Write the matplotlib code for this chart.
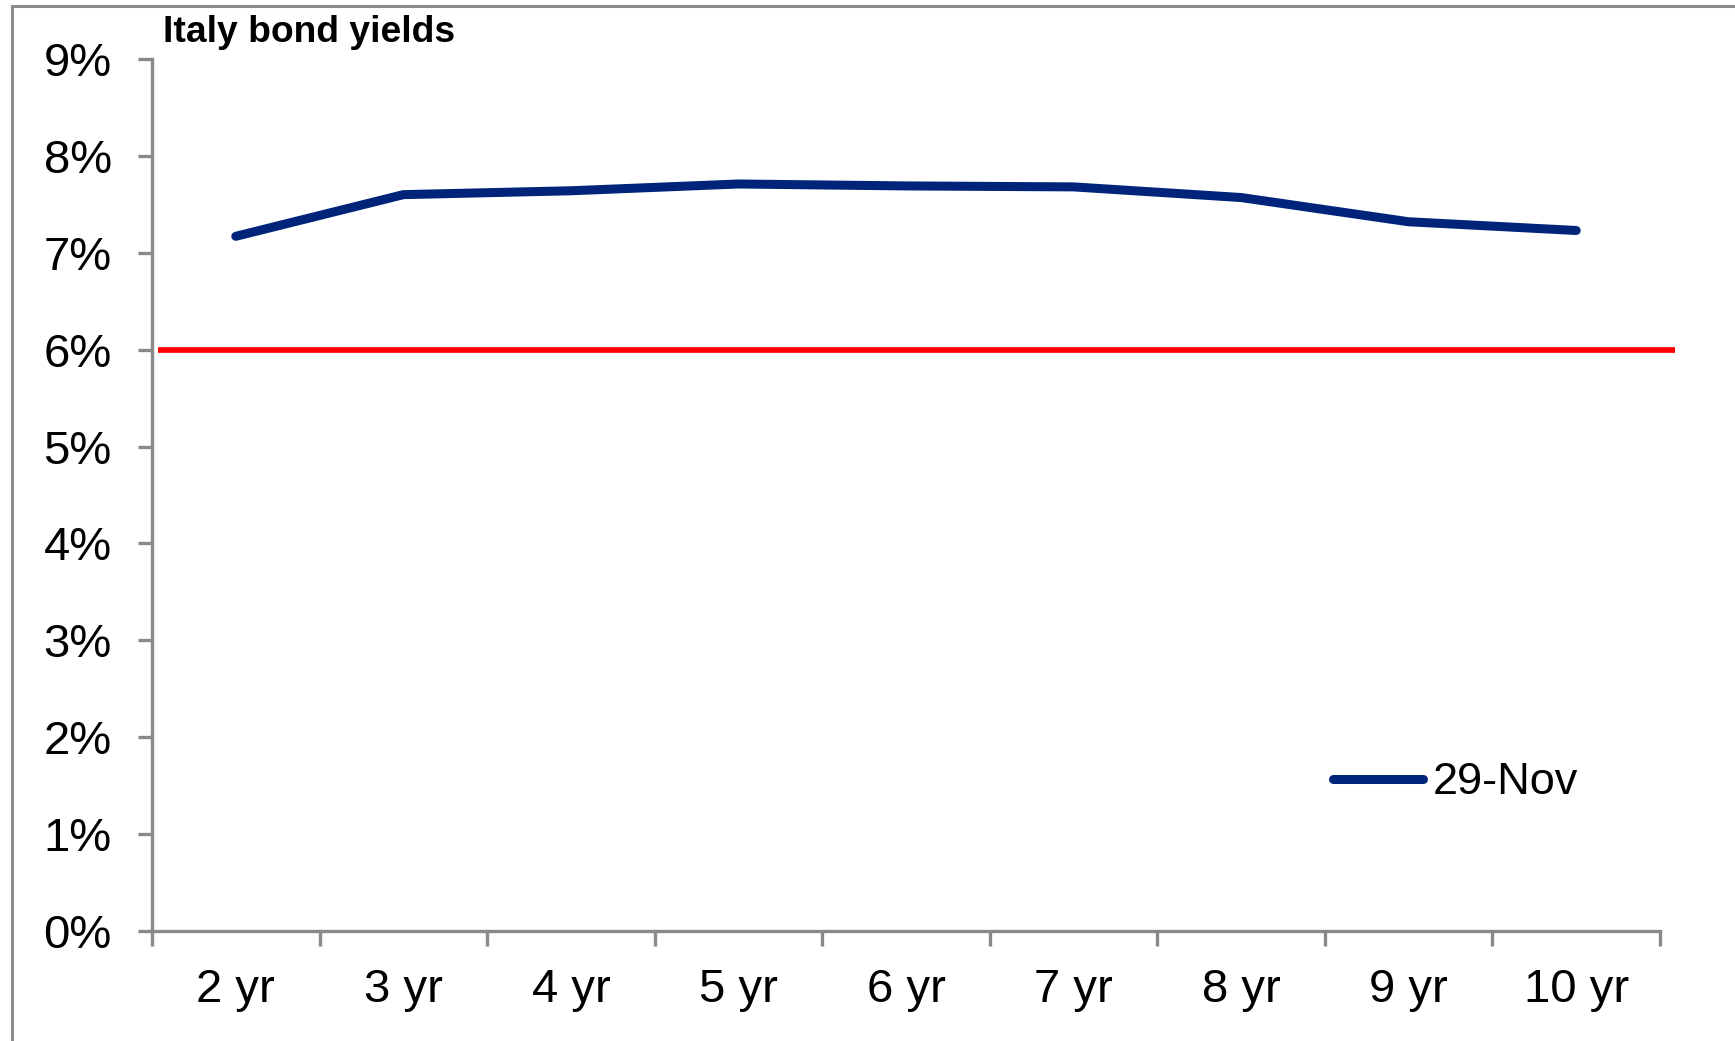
import matplotlib
matplotlib.use("Agg")
import matplotlib.pyplot as plt
from matplotlib.lines import Line2D
import numpy as np

# Italian government bond yield curve
maturities = ["2 yr", "3 yr", "4 yr", "5 yr", "6 yr", "7 yr", "8 yr", "9 yr", "10 yr"]
yields_29nov = [7.17, 7.60, 7.64, 7.71, 7.69, 7.68, 7.57, 7.32, 7.23]
threshold = 6.0
series_label = "29-Nov"
title = "Italy bond yields"
y_ticks = list(range(0, 10))

W, H = 1735, 1041
plt.rcParams["font.family"] = ["Liberation Sans", "DejaVu Sans"]

fig = plt.figure(figsize=(W / 100, H / 100), dpi=100)
ax = fig.add_axes([152 / W, 1 - 931 / H, (1660 - 152) / W, (931 - 59) / H])

axis_gray = "#898989"
navy = "#00247A"

x = np.arange(len(maturities))
ax.plot(x, yields_29nov, color=navy, lw=6.5, solid_capstyle="round",
        solid_joinstyle="round", label=series_label, zorder=3)

# 6% reference line, running a little past the plot area on the right
ax.plot([-0.464, 8.587], [threshold, threshold], color="#FF0000", lw=4.1,
        solid_capstyle="butt", clip_on=False, zorder=2)

ax.set_xlim(-0.5, len(maturities) - 0.5)
ax.set_ylim(0, 9)

ax.set_yticks(y_ticks)
ax.set_yticklabels([f"{v}%" for v in y_ticks])
ax.set_xticks(np.arange(len(maturities) + 1) - 0.5)
ax.set_xticklabels([])
ax.set_xticks(x, minor=True)
ax.set_xticklabels(maturities, minor=True)

for side in ("top", "right"):
    ax.spines[side].set_visible(False)
for side in ("left", "bottom"):
    ax.spines[side].set_color(axis_gray)
    ax.spines[side].set_linewidth(2.4)

ax.tick_params(axis="y", which="major", direction="out", length=10, width=2.4,
               color=axis_gray, labelsize=34, pad=19)
ax.tick_params(axis="x", which="major", direction="out", length=11, width=2.4,
               color=axis_gray)
ax.tick_params(axis="x", which="minor", length=0, labelsize=34, pad=27)

fig.text(163 / W, 1 - 42 / H, title, fontsize=26.8, fontweight="bold",
         ha="left", va="baseline")

leg = ax.legend(loc="center left", bbox_to_anchor=(1333 / W, 1 - 783 / H),
                bbox_transform=fig.transFigure, frameon=False, fontsize=32.5,
                handlelength=2.0, handletextpad=0.22, borderpad=0,
                borderaxespad=0)

# Frame around the chart (left and top edges)
fig.add_artist(Line2D([11.5 / W, 11.5 / W], [0, 1 - 5.5 / H], color="#8c8c8c",
                      lw=2.2, transform=fig.transFigure))
fig.add_artist(Line2D([11.5 / W, 1], [1 - 5.5 / H, 1 - 5.5 / H], color="#8c8c8c",
                      lw=2.2, transform=fig.transFigure))

fig.savefig("out.png", dpi=100)
